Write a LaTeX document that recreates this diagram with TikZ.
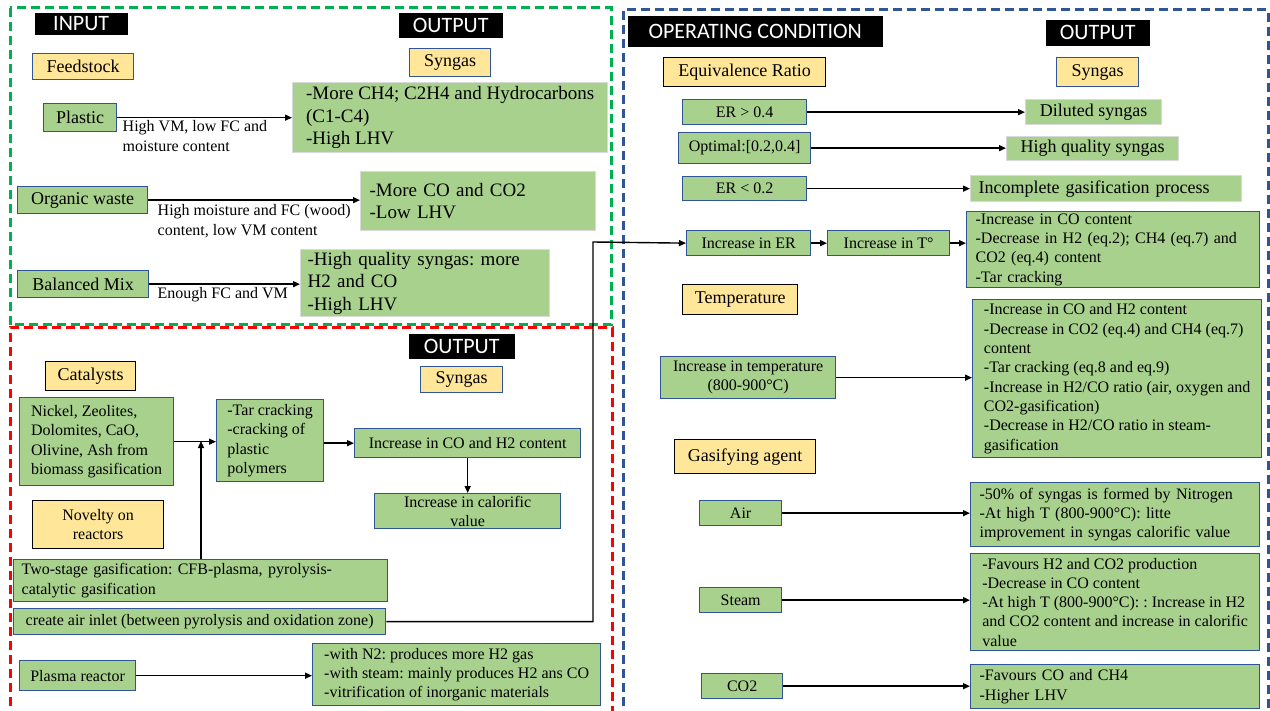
\documentclass[tikz,border=0pt]{standalone}
\usepackage{fontspec}
\setmainfont{Liberation Serif}
\newfontfamily\capfont{Carlito}
\usepackage{tikz}
\usetikzlibrary{positioning}
\usetikzlibrary{arrows.meta}
\frenchspacing
\definecolor{boxgreen}{RGB}{169,209,142}
\definecolor{boxyellow}{RGB}{255,230,153}
\definecolor{boxblue}{RGB}{47,85,151}
\definecolor{framegreen}{RGB}{0,176,80}
\definecolor{framered}{RGB}{255,0,0}
\definecolor{frameblue}{RGB}{47,85,151}
\tikzset{
  gbox/.style={draw=boxblue, fill=boxgreen, line width=1.3pt, inner sep=0pt, anchor=north west},
  gboxl/.style={gbox, draw=black!15},
  ybox/.style={draw=boxblue, fill=boxyellow, line width=1.3pt, inner sep=0pt, anchor=north west},
  ykbox/.style={ybox, draw=black},
  heading/.style={fill=black, text=white, inner sep=0pt, anchor=north west, font=\capfont\fontsize{22}{24}\selectfont},
  note/.style={anchor=north west, align=left, inner sep=0pt, font=\fontsize{16}{20}\selectfont},
  frame/.style={line width=3pt, dash pattern=on 9pt off 5pt},
  big/.style={font=\fontsize{19}{22.5}\selectfont},
  mid/.style={font=\fontsize{18}{21}\selectfont},
  small/.style={font=\fontsize{16}{19.3}\selectfont}
}
\begin{document}
\begin{tikzpicture}[x=1pt, y=-1pt, line width=1.4pt, >={Triangle[length=7pt,width=6pt]}]
\useasboundingbox (0,0) rectangle (1270,711);
% dashed panels
\draw[framered, frame] (10,720) -- (10,328) -- (612,328) -- (612,720);
\draw[frameblue, frame] (623,720) -- (623,10) -- (1268,10) -- (1268,720);
\draw[framegreen, frame] (10,8) rectangle (611,325);

% feedstock panel
\node[heading, minimum width=93, minimum height=22] (inhead) at (34,12) {INPUT};
\node[heading, minimum width=104, minimum height=25] (outhead1) at (398,12) {OUTPUT};
\node[ybox, mid, minimum width=101, minimum height=26] (feed) at (32,53) {Feedstock};
\node[ybox, mid, minimum width=81, minimum height=28] (syngas1) at (409,48) {Syngas};
\node[gbox, mid, minimum width=73, minimum height=28] (plastic) at (43,103) {Plastic};
\node[gboxl, big, minimum width=315, minimum height=70, align=left] (plasticout) at (292,82) {-More CH4; C2H4 and Hydrocarbons\\(C1-C4)\\-High LHV};
\node[note] (plasticnote) at (122,120) {High VM, low FC and\\moisture content};
\node[gbox, mid, minimum width=130, minimum height=27] (organic) at (17,186) {Organic waste};
\node[gboxl, big, minimum height=59, text width=217, inner xsep=9pt, align=left] (organicout) at (360,171) {-More CO and CO2\\-Low LHV};
\node[note] (organicnote) at (157,204) {High moisture and FC (wood)\\content, low VM content};
\node[gbox, mid, minimum width=131, minimum height=27] (balanced) at (17,270) {Balanced Mix};
\node[gboxl, big, minimum height=67, text width=235, inner xsep=7pt, align=left] (balancedout) at (300,249) {-High quality syngas: more\\H2 and CO\\-High LHV};
\node[note] (balancednote) at (157,287) {Enough FC and VM};
\draw[->] (plastic.east) -- (plastic.east -| plasticout.west);
\draw[->] (organic.east) -- (organic.east -| organicout.west);
\draw[->] (balanced.east) -- (balanced.east -| balancedout.west);

% catalysts and reactors panel
\node[heading, minimum width=106, minimum height=25] (outhead2) at (408,333) {OUTPUT};
\node[ybox, mid, minimum width=82, minimum height=26] (syngas2) at (420,366) {Syngas};
\node[ykbox, mid, minimum width=90, minimum height=29] (catalysts) at (45,361) {Catalysts};
\node[gbox, small, minimum width=154, minimum height=88, align=left] (catlist) at (19,397) {Nickel, Zeolites,\\Dolomites, CaO,\\Olivine, Ash from\\biomass gasification};
\node[gbox, small, minimum width=107, minimum height=82, align=left] (cracking) at (216,399) {-Tar cracking\\-cracking of\\plastic\\polymers};
\node[gbox, small, minimum width=226, minimum height=29] (coh2) at (354,428) {Increase in CO and H2 content};
\node[gbox, small, minimum width=186, minimum height=35, align=center] (calorific) at (374,493) {Increase in calorific\\value};
\node[ykbox, small, minimum width=131, minimum height=48, align=center] (novelty) at (32,500) {Novelty on\\reactors};
\node[gbox, small, minimum height=42, text width=358, inner xsep=8pt, align=left] (twostage) at (13,559) {Two-stage gasification: CFB-plasma, pyrolysis-\\catalytic gasification};
\node[gbox, small, minimum width=372, minimum height=26] (airinlet) at (13,608) {create air inlet (between pyrolysis and oxidation zone)};
\node[gbox, small, minimum width=116, minimum height=30] (plasma) at (19,660) {Plasma reactor};
\node[gbox, small, minimum width=288, minimum height=62, align=left] (plasmaout) at (312,643) {-with N2: produces more H2 gas\\-with steam: mainly produces H2 ans CO\\-vitrification of inorganic materials};
\coordinate (merge) at (201,441);
\coordinate (bend) at (593,242);
\draw[->] (catlist.east) -- (catlist.east -| cracking.west);
\draw[->] (twostage.north -| merge) -- (merge);
\draw[->] (cracking.east |- coh2.west) -- (coh2.west);
\draw[->] (coh2.south) -- (calorific.north);
\draw[->] (plasma.east) -- (plasma.east -| plasmaout.west);

% operating condition panel
\node[heading, minimum width=255, minimum height=31] (ophead) at (627,15) {OPERATING CONDITION};
\node[heading, minimum width=104, minimum height=26] (outhead3) at (1045,19) {OUTPUT};
\node[ykbox, mid, minimum width=162, minimum height=29] (eqratio) at (663,57) {Equivalence Ratio};
\node[ybox, mid, minimum width=82, minimum height=29] (syngas3) at (1056,57) {Syngas};
\node[gbox, small, minimum width=124, minimum height=25] (erhigh) at (682,99) {ER > 0.4};
\node[gboxl, mid, minimum width=136, minimum height=25] (diluted) at (1025,99) {Diluted syngas};
\node[gbox, small, minimum width=132, minimum height=31] (optimal) at (678,132) {Optimal:[0.2,0.4]};
\node[gboxl, mid, minimum width=172, minimum height=24] (highq) at (1006,136) {High quality syngas};
\node[gbox, small, minimum width=124, minimum height=24] (erlow) at (682,176) {ER < 0.2};
\node[gboxl, mid, minimum height=26, text width=255, inner xsep=8pt, align=left] (incomplete) at (970,175) {Incomplete gasification process};
\node[gbox, small, minimum width=124, minimum height=25] (iner) at (686,230) {Increase in ER};
\node[gbox, small, minimum width=122, minimum height=25] (inT) at (827,230) {Increase in T°};
\node[gbox, small, minimum height=76, text width=275, inner xsep=9pt, align=left] (ertout) at (966,211) {-Increase in CO content\\-Decrease in H2 (eq.2); CH4 (eq.7) and\\CO2 (eq.4) content\\-Tar cracking};
\node[ykbox, mid, minimum width=115, minimum height=30] (tempy) at (682,284) {Temperature};
\node[gbox, small, minimum width=289, minimum height=158, align=left] (tempout) at (972,299) {-Increase in CO and H2 content\\-Decrease in CO2 (eq.4) and CH4 (eq.7)\\content\\-Tar cracking (eq.8 and eq.9)\\-Increase in H2/CO ratio (air, oxygen and\\CO2-gasification)\\-Decrease in H2/CO ratio in steam-\\gasification};
\node[gbox, small, minimum width=175, minimum height=42, align=center] (inctemp) at (660,356) {Increase in temperature\\(800-900°C)};
\node[ykbox, mid, minimum width=141, minimum height=34] (agent) at (674,439) {Gasifying agent};
\node[gbox, small, minimum width=82, minimum height=25] (air) at (699,500) {Air};
\node[gbox, small, minimum height=64, text width=271, inner xsep=9pt, align=left] (airout) at (970,482) {-50\% of syngas is formed by Nitrogen\\-At high T (800-900°C): litte\\improvement in syngas calorific value};
\node[gbox, small, minimum width=82, minimum height=25] (steam) at (699,587) {Steam};
\node[gbox, small, minimum width=289, minimum height=97, align=left] (steamout) at (970,553) {-Favours H2 and CO2 production\\-Decrease in CO content\\-At high T (800-900°C): : Increase in H2\\and CO2 content and increase in calorific\\value};
\node[gbox, small, minimum width=81, minimum height=25] (co2) at (701,673) {CO2};
\node[gbox, small, minimum height=44, text width=271, inner xsep=9pt, align=left] (co2out) at (970,664) {-Favours CO and CH4\\-Higher LHV};
\draw[->] (erhigh.east) -- (erhigh.east -| diluted.west);
\draw[->] (optimal.east) -- (optimal.east -| highq.west);
\draw[->] (erlow.east) -- (erlow.east -| incomplete.west);
\draw[->] (airinlet.east) -| (bend) -- (iner.west);
\draw[->] (iner.east) -- (inT.west);
\draw[->] (inT.east) -- (inT.east -| ertout.west);
\draw[->] (inctemp.east) -- (inctemp.east -| tempout.west);
\draw[->] (air.east) -- (air.east -| airout.west);
\draw[->] (steam.east) -- (steam.east -| steamout.west);
\draw[->] (co2.east) -- (co2.east -| co2out.west);
\end{tikzpicture}
\end{document}
